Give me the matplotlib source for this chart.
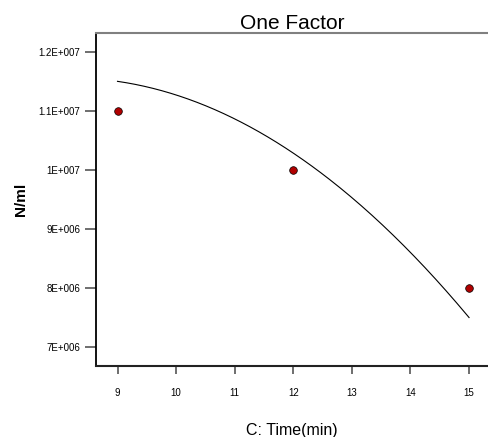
import numpy as np
import matplotlib
matplotlib.use('Agg')
import matplotlib.pyplot as plt
from matplotlib.ticker import FuncFormatter

plt.rcParams['font.family'] = ['Liberation Sans', 'DejaVu Sans']

# measured design points
time_min = [9, 12, 15]
cells_per_ml = [1.1e7, 1.0e7, 8.0e6]

# model prediction
curve_x = [9, 10, 11, 12, 13, 14, 15]
curve_y = [1.150e7, 1.126e7, 1.087e7, 1.028e7, 0.953e7, 0.860e7, 0.750e7]

x_ticks = [9, 10, 11, 12, 13, 14, 15]
y_ticks = [7e6, 8e6, 9e6, 1e7, 1.1e7, 1.2e7]


def design_expert_fmt(v, pos):
    exp = int(np.floor(np.log10(abs(v))))
    mant = v / 10 ** exp
    return f'{mant:g}E+{exp:03d}'


fig = plt.figure(figsize=(4.88, 4.37), dpi=100)
ax = fig.add_axes([0.196, 0.163, 0.806, 0.762])

# smooth quadratic through the read curve values
coef = np.polyfit(curve_x, curve_y, 2)
xs = np.linspace(curve_x[0], curve_x[-1], 200)
ax.plot(xs, np.polyval(coef, xs), color='black', lw=0.8)

ax.plot(time_min, cells_per_ml, 'o', color='#b00000', markeredgecolor='black',
        markeredgewidth=0.5, markersize=5.5)

ax.set_xlim(8.627, 15.34)
ax.set_ylim(6.683e6, 1.232e7)
ax.set_xticks(x_ticks)
ax.set_yticks(y_ticks)
ax.yaxis.set_major_formatter(FuncFormatter(design_expert_fmt))

ax.spines['right'].set_visible(False)
ax.spines['top'].set_color('#808080')
ax.spines['top'].set_linewidth(1.5)
ax.spines['left'].set_linewidth(1.3)
ax.spines['bottom'].set_linewidth(1.5)
ax.spines['bottom'].set_color('#222222')

ax.tick_params(axis='y', direction='out', length=8, width=1.2, color='#555555',
               labelsize=7, pad=3)
ax.tick_params(axis='x', direction='out', length=6, width=1.2, color='#555555',
               labelsize=7, pad=10)

ax.set_title('One Factor', fontsize=15, pad=3)
ax.set_xlabel('C: Time(min)', fontsize=11.5, labelpad=18)
ax.set_ylabel('N/ml', fontsize=11, fontweight='bold', labelpad=8)

fig.savefig('out.png', dpi=100)
